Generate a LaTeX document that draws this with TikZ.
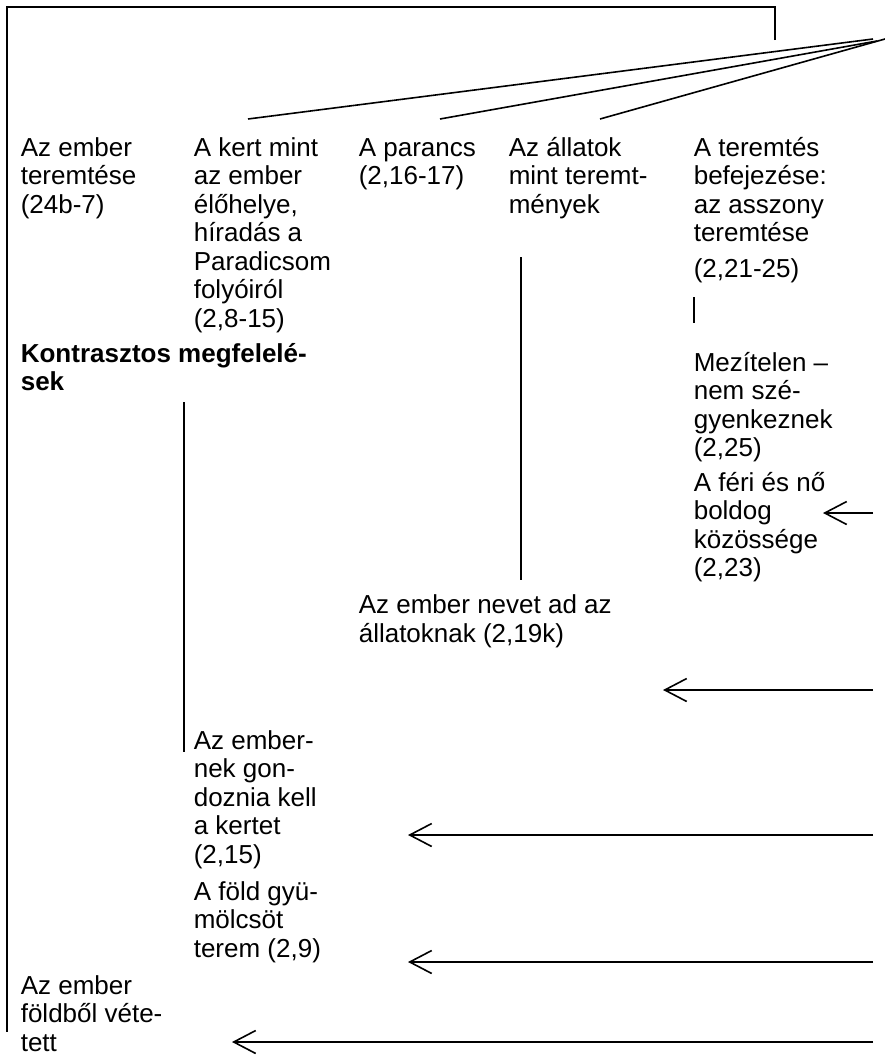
\documentclass[tikz,border=0pt]{standalone}
\usepackage{fontspec}
\setmainfont{Liberation Sans}
\usetikzlibrary{arrows.meta}

\begin{document}
\begin{tikzpicture}[x=1pt,y=-1pt,line width=1.6pt]
  \tikzset{txt/.style={anchor=base west, inner sep=0pt, align=left, font=\fontsize{26}{28.5}\selectfont}, back/.style={-{Straight Barb[length=22pt,width=23pt]}}}
  \useasboundingbox (0,0) rectangle (885,1055);
  \node[txt] (man) at (20,213) {Az ember\\teremtése\\(24b-7)};
  \node[txt] (garden) at (193,327) {A kert mint\\az ember\\élőhelye,\\híradás a\\Paradicsom\\folyóiról\\(2,8-15)};
  \node[txt] (command) at (358,184.5) {A parancs\\(2,16-17)};
  \node[txt] (animals) at (508,213) {Az állatok\\mint teremt-\\mények};
  \node[txt] (woman) at (693,241.5) {A teremtés\\befejezése:\\az asszony\\teremtése};
  \node[txt] (womanref) at (693,277) {(2,21-25)};
  \node[txt, font=\fontsize{26}{28.5}\selectfont\bfseries] (contrast) at (20,390.5) {Kontrasztos megfelelé-\\sek};
  \node[txt] (naked) at (693,456.5) {Mezítelen --\\nem szé-\\gyenkeznek\\(2,25)};
  \node[txt] (couple) at (693,576.5) {A féri és nő\\boldog\\közössége\\(2,23)};
  \node[txt] (names) at (358,642) {Az ember nevet ad az\\állatoknak (2,19k)};
  \node[txt] (keep) at (193,863) {Az ember-\\nek gon-\\doznia kell\\a kertet\\(2,15)};
  \node[txt] (fruit) at (193,957) {A föld gyü-\\mölcsöt\\terem (2,9)};
  \node[txt] (dust) at (20,1051) {Az ember\\földből véte-\\tett};
  \coordinate (apexA) at (873,39);
  \coordinate (apexB) at (877,41);
  \coordinate (apexC) at (885,39);
  \coordinate (toGarden) at (248,119);
  \coordinate (toCommand) at (440,119);
  \coordinate (toAnimals) at (600,119);
  \coordinate (brR) at (775,40);
  \coordinate (brTR) at (775,7);
  \coordinate (brTL) at (7,7);
  \coordinate (brBL) at (7,1032);
  \coordinate (animalsDown) at (521,257);
  \coordinate (namesUp) at (521,580);
  \coordinate (contrastDown) at (184,402);
  \coordinate (keepUp) at (184,752);
  \coordinate (barTop) at (694,297);
  \coordinate (barBot) at (694,323);
  \coordinate (inCouple) at (823,513);
  \coordinate (outCouple) at (873,513);
  \coordinate (inNames) at (663,690);
  \coordinate (outNames) at (873,690);
  \coordinate (inKeep) at (408,835);
  \coordinate (outKeep) at (873,835);
  \coordinate (inFruit) at (408,962);
  \coordinate (outFruit) at (873,962);
  \coordinate (inDust) at (232,1042);
  \coordinate (outDust) at (873,1042);
  \draw (brR) -- (brTR) -- (brTL) -- (brBL);
  \draw (apexA) -- (toGarden);
  \draw (apexB) -- (toCommand);
  \draw (apexC) -- (toAnimals);
  \draw (animalsDown) -- (namesUp);
  \draw (contrastDown) -- (keepUp);
  \draw[line width=1.2pt] (barTop) -- (barBot);
  \draw[back] (outCouple) -- (inCouple);
  \draw[back] (outNames) -- (inNames);
  \draw[back] (outKeep) -- (inKeep);
  \draw[back] (outFruit) -- (inFruit);
  \draw[back] (outDust) -- (inDust);
\end{tikzpicture}
\end{document}
